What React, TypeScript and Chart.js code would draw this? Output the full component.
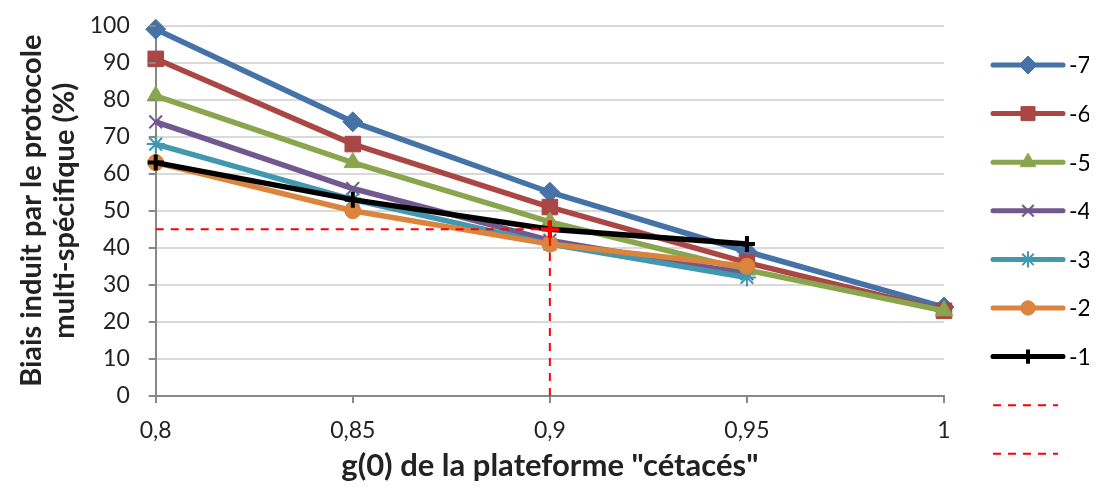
import React, { useEffect, useRef } from "react";
import { Chart, registerables } from "chart.js";
import { drawPoint } from "chart.js/helpers";

Chart.register(...registerables);

const xValues = [0.8, 0.85, 0.9, 0.95, 1];
const yTicks = [0, 10, 20, 30, 40, 50, 60, 70, 80, 90, 100];
const s7 = [99, 74, 55, 39, 24];
const s6 = [91, 68, 51, 36, 23];
const s5 = [81, 63, 47, 34, 23];
const s4 = [74, 56, 42, 33];
const s3 = [68, 53, 41, 32];
const s2 = [63, 50, 41, 35];
const s1 = [63, 53, 45, 41];
const refX = 0.9;
const refY = 45;
const xStart = 0.8;

const FONT = "Lato, 'Open Sans', sans-serif";

const seriesDefs = [
  { label: "-7", data: s7, color: "#4572A7", style: "rectRot", radius: 10, bw: 1 },
  { label: "-6", data: s6, color: "#AA4643", style: "rect", radius: 11, bw: 1 },
  { label: "-5", data: s5, color: "#89A54E", style: "triangle", radius: 10, bw: 1 },
  { label: "-4", data: s4, color: "#71588F", style: "crossRot", radius: 9, bw: 2 },
  { label: "-3", data: s3, color: "#4198AF", style: "star", radius: 9, bw: 2 },
  { label: "-2", data: s2, color: "#DB843D", style: "circle", radius: 8, bw: 1 },
  { label: "-1", data: s1, color: "#000000", style: "cross", radius: 8, bw: 4 },
];

const tickMarks = {
  id: "tickMarks",
  afterDraw(chart: any) {
    const ctx = chart.ctx;
    const ys = chart.scales.y;
    const xs = chart.scales.x;
    const { left, bottom } = chart.chartArea;
    ctx.save();
    ctx.strokeStyle = "#888";
    ctx.lineWidth = 2;
    yTicks.forEach((v) => {
      const py = Math.round(ys.getPixelForValue(v));
      ctx.beginPath();
      ctx.moveTo(left - 7, py);
      ctx.lineTo(left, py);
      ctx.stroke();
    });
    xValues.forEach((v) => {
      const px = Math.round(xs.getPixelForValue(v));
      ctx.beginPath();
      ctx.moveTo(px, bottom);
      ctx.lineTo(px, bottom + 7);
      ctx.stroke();
    });
    ctx.restore();
  },
};

const legendPlugin = {
  id: "customLegend",
  afterDraw(chart: any) {
    const ctx = chart.ctx;
    const x0 = chart.chartArea.right + 49;
    const x1 = x0 + 70;
    const yStart = 57;
    const gap = 48.6;
    ctx.save();
    seriesDefs.forEach((s, i) => {
      const y = yStart + i * gap;
      ctx.strokeStyle = s.color;
      ctx.lineWidth = 5;
      ctx.lineCap = "round";
      ctx.setLineDash([]);
      ctx.beginPath();
      ctx.moveTo(x0, y);
      ctx.lineTo(x1, y);
      ctx.stroke();
      ctx.fillStyle = s.color;
      ctx.lineWidth = s.bw;
      ctx.lineCap = "butt";
      drawPoint(ctx, { pointStyle: s.style, radius: s.radius * 0.9, rotation: 0, borderWidth: s.bw }, (x0 + x1) / 2, y);
      ctx.fillStyle = "#000";
      ctx.font = "23px " + FONT;
      ctx.textBaseline = "middle";
      ctx.textAlign = "left";
      ctx.fillText(s.label, x1 + 6, y + 1);
    });
    for (let j = 0; j < 2; j++) {
      const y = yStart + (7 + j) * gap;
      ctx.strokeStyle = "#FF0000";
      ctx.lineWidth = 2;
      ctx.lineCap = "butt";
      ctx.setLineDash([8, 7]);
      ctx.beginPath();
      ctx.moveTo(x0, y);
      ctx.lineTo(x1 - 5, y);
      ctx.stroke();
    }
    ctx.restore();
  },
};

export default function App() {
  const ref = useRef<HTMLCanvasElement>(null);
  useEffect(() => {
    if (!ref.current) return;
    const datasets: any[] = [];
    datasets.push({
      label: "ref-h",
      data: [
        { x: xStart, y: refY },
        { x: refX, y: refY },
      ],
      borderColor: "#FF0000",
      backgroundColor: "#FF0000",
      borderWidth: 2,
      borderDash: [8, 7],
      pointRadius: [0, 9],
      pointStyle: "cross",
      pointBorderWidth: 4,
      pointBorderColor: "#FF0000",
      clip: false,
      order: 0,
    });
    datasets.push({
      label: "ref-v",
      data: [
        { x: refX, y: 0 },
        { x: refX, y: refY },
      ],
      borderColor: "#FF0000",
      backgroundColor: "#FF0000",
      borderWidth: 2,
      borderDash: [8, 7],
      pointRadius: 0,
      clip: false,
      order: 0,
    });
    seriesDefs.forEach((s, i) => {
      datasets.push({
        label: s.label,
        data: s.data.map((v, k) => ({ x: xValues[k], y: v })),
        borderColor: s.color,
        backgroundColor: s.color,
        pointBorderColor: s.color,
        pointBackgroundColor: s.color,
        borderWidth: 5.5,
        pointStyle: s.style,
        pointRadius: s.radius,
        pointBorderWidth: s.bw,
        clip: false,
        order: 7 - i,
      });
    });
    const chart = new Chart(ref.current, {
      type: "line",
      data: { datasets },
      options: {
        animation: false,
        responsive: false,
        layout: { padding: { left: 7, right: 145, top: 0, bottom: 0 } },
        plugins: { legend: { display: false }, tooltip: { enabled: false } },
        scales: {
          x: {
            type: "linear",
            min: 0.8,
            max: 1,
            afterBuildTicks: (axis: any) => {
              axis.ticks = xValues.map((v) => ({ value: v }));
            },
            ticks: {
              color: "#222",
              font: { family: FONT, size: 23, lineHeight: 1.0 },
              padding: 0,
              callback: (v: any) => String(Math.round(Number(v) * 100) / 100).replace(".", ","),
            },
            grid: { drawOnChartArea: false, drawTicks: true, tickLength: 23, tickColor: "rgba(0,0,0,0)" },
            border: { color: "#888", width: 2 },
            title: {
              display: true,
              text: 'g(0) de la plateforme "cétacés"',
              color: "#222",
              font: { family: FONT, size: 31, weight: "bold", lineHeight: 1.0 },
              padding: { top: 8, bottom: 0 },
            },
          },
          y: {
            type: "linear",
            min: 0,
            max: 100,
            afterBuildTicks: (axis: any) => {
              axis.ticks = yTicks.map((v) => ({ value: v }));
            },
            ticks: { color: "#222", font: { family: FONT, size: 23, lineHeight: 1.0 }, padding: 6 },
            grid: { color: "#D9D9D9", lineWidth: 2, drawTicks: true, tickLength: 20, tickColor: "rgba(0,0,0,0)" },
            border: { color: "#888", width: 2 },
            title: {
              display: true,
              text: ["Biais induit par le protocole", "multi-spécifique (%)"],
              color: "#222",
              font: { family: FONT, size: 29, weight: "bold", lineHeight: 1.15 },
              padding: { top: 0, bottom: 2 },
            },
          },
        },
      },
      plugins: [legendPlugin, tickMarks],
    });
    return () => chart.destroy();
  }, []);
  return <canvas ref={ref} width={1081} height={473} style={{ display: "block" }} />;
}
